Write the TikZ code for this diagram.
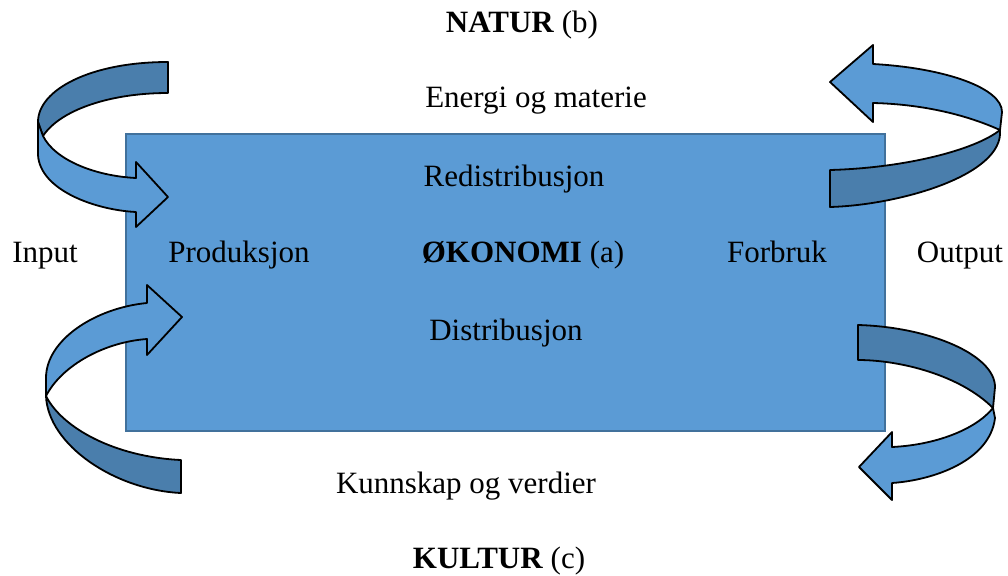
\documentclass[tikz,border=0pt]{standalone}
\usepackage{fontspec}
\setmainfont{Liberation Serif}
\definecolor{boxblue}{HTML}{5B9BD5}
\definecolor{boxedge}{HTML}{41719C}
\definecolor{arrowdark}{HTML}{4A7EAC}
\begin{document}
\begin{tikzpicture}[x=1pt,y=-1pt,
  lbl/.style={anchor=base,inner sep=0pt,font=\fontsize{31}{36}\selectfont},
  frontband/.style={fill=boxblue,draw=black,line width=1.8pt,line join=round},
  backband/.style={fill=arrowdark,draw=black,line width=1.8pt,line join=round}]
\useasboundingbox (0,0) rectangle (1008,575);
% economy box
\node[draw=boxedge,fill=boxblue,line width=2pt,minimum width=759pt,minimum height=297pt,inner sep=0pt,anchor=north west] (oko) at (125,133) {};
% top-left arrow (input from nature)
\path[backband] (168,62) .. controls (90,62) and (38,90) .. (38,122) -- (43,136) .. controls (60,110) and (110,93) .. (168,93) -- cycle;
\path[frontband] (38,122) -- (38,155) .. controls (40,190) and (95,210) .. (136,212) -- (136,227) -- (168,197) -- (136,162) -- (136,178) .. controls (95,176) and (55,160) .. (43,136) -- cycle;
% bottom-left arrow (input from culture)
\path[backband] (46,396) .. controls (48,445) and (115,490) .. (181,493) -- (181,460) .. controls (115,457) and (62,428) .. (46,396) -- cycle;
\path[frontband] (147,303) .. controls (95,308) and (46,340) .. (46,378) -- (46,396) .. controls (62,365) and (105,342) .. (147,339) -- (147,355) -- (182,317) -- (147,285) -- cycle;
% top-right arrow (output to nature)
\path[backband] (1000,130) .. controls (1004,175) and (900,205) .. (830,207) -- (830,170) .. controls (905,168) and (975,150) .. (1000,130) -- cycle;
\path[frontband] (873,64) .. controls (945,68) and (1002,88) .. (1002,112) -- (1000,130) .. controls (960,112) and (915,104) .. (873,103) -- (873,122) -- (830,82) -- (873,45) -- cycle;
% bottom-right arrow (output to culture)
\path[backband] (858,325) .. controls (930,327) and (995,355) .. (995,387) -- (993,408) .. controls (960,375) and (900,360) .. (858,360) -- cycle;
\path[frontband] (993,408) -- (995,418) .. controls (990,460) and (935,480) .. (892,483) -- (892,500) -- (859,467) -- (892,432) -- (892,447) .. controls (935,445) and (975,430) .. (993,408) -- cycle;
% labels
\node[lbl] (natur) at (522,33) {\textbf{NATUR} (b)};
\node[lbl] (energi) at (536,107) {Energi og materie};
\node[lbl] (redis) at (514,186) {Redistribusjon};
\node[lbl] (input) at (45,262) {Input};
\node[lbl] (prod) at (239,262) {Produksjon};
\node[lbl] (okonomi) at (523,262) {\textbf{ØKONOMI} (a)};
\node[lbl] (forbruk) at (777,262) {Forbruk};
\node[lbl] (output) at (960,262) {Output};
\node[lbl] (dist) at (506,340) {Distribusjon};
\node[lbl] (kunn) at (466,493) {Kunnskap og verdier};
\node[lbl] (kultur) at (499,568) {\textbf{KULTUR} (c)};
\end{tikzpicture}
\end{document}
